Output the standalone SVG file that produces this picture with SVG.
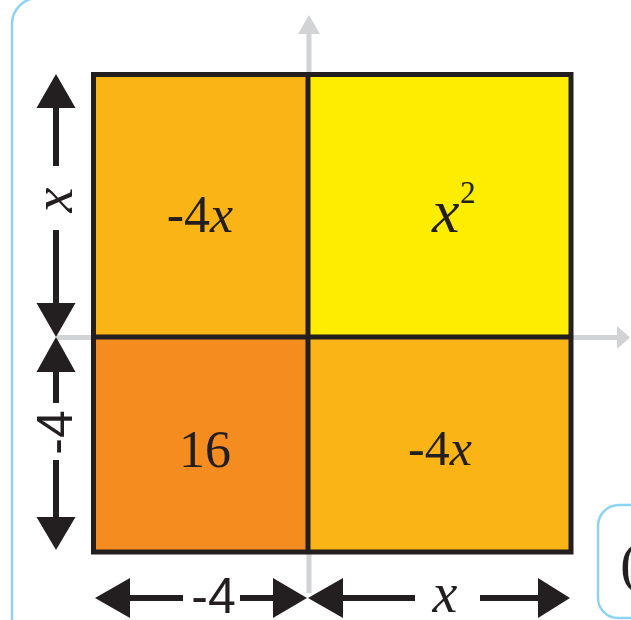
<svg xmlns="http://www.w3.org/2000/svg" width="631" height="620" viewBox="0 0 631 620">
<style>
.panel{fill:none;stroke:#8FD3F2;stroke-width:2.5}
.axis{stroke:#D1D3D4;stroke-width:5;fill:none}
.axhead{fill:#D1D3D4}
.shaft{stroke:#231F20;stroke-width:6;fill:none}
.head{fill:#231F20}
.grid{fill:none;stroke:#231F20;stroke-width:5}
.serif{font-family:"Liberation Serif","Times New Roman",serif;fill:#231F20}
.sans{font-family:"Liberation Sans",Arial,sans-serif;fill:#231F20}
.it{font-style:italic}
</style>
<g id="panel-left"><path class="panel" d="M12,620 V24 A26,26 0 0 1 38,-2"/></g>
<g id="panel-right"><path class="panel" d="M640,505 H619 A21,21 0 0 0 598,526 V598 A20,20 0 0 0 618,618 H640"/><text class="serif" x="620" y="582" font-size="58">(</text></g>
<g id="axes">
<path class="axis" d="M309,33 V593"/><polygon class="axhead" points="309,15 298,34 320,34"/>
<path class="axis" d="M57,337.5 H618"/><polygon class="axhead" points="630,337.5 617,326 617,349"/>
</g>
<g id="cell-tl"><rect x="93.5" y="74.5" width="214.5" height="262.5" fill="#FBB415"/><text class="serif" x="200" y="232" font-size="52" text-anchor="middle">-4<tspan class="it">x</tspan></text></g>
<g id="cell-tr"><rect x="308" y="74.5" width="263" height="262.5" fill="#FFED00"/><text class="serif it" x="432" y="232" font-size="62">x</text><text class="serif" x="460" y="203" font-size="31">2</text></g>
<g id="cell-bl"><rect x="93.5" y="337" width="214.5" height="215" fill="#F48C1F"/><text class="serif" x="205" y="467" font-size="52" text-anchor="middle">16</text></g>
<g id="cell-br"><rect x="308" y="337" width="263" height="215" fill="#FBB415"/><text class="serif" x="440" y="465" font-size="50" text-anchor="middle">-4<tspan class="it">x</tspan></text></g>
<g id="grid"><rect class="grid" x="93.5" y="74.5" width="477.5" height="477.5"/><path class="grid" d="M308,74.5 V552 M93.5,337 H571" stroke-width="4.5"/></g>
<g id="connectors">
<path class="shaft" d="M56,107 V166 M56,230 V304"/>
<polygon class="head" points="56,74 36.5,108 75.5,108"/><polygon class="head" points="56,337 36.5,303 75.5,303"/>
<path class="shaft" d="M56,371 V403 M56,460 V518"/>
<polygon class="head" points="56,337 36.5,372 75.5,372"/><polygon class="head" points="56,550 36.5,517 75.5,517"/>
<path class="shaft" d="M129,598 H183 M240,598 H274"/>
<polygon class="head" points="95,598 130,578 130,618"/><polygon class="head" points="307,598 273,578 273,618"/>
<path class="shaft" d="M342,598 H415 M480,598 H539"/>
<polygon class="head" points="308,598 343,578 343,618"/><polygon class="head" points="570,598 538,578 538,618"/>
</g>
<g id="labels">
<text class="serif it" transform="translate(72,200) rotate(-90)" font-size="56" text-anchor="middle">x</text>
<text class="sans" transform="translate(72,432.5) rotate(-90)" font-size="50" text-anchor="middle">-4</text>
<text class="sans" x="213.5" y="613" font-size="50" text-anchor="middle">-4</text>
<text class="serif it" x="445" y="612" font-size="56" text-anchor="middle">x</text>
</g>
</svg>
